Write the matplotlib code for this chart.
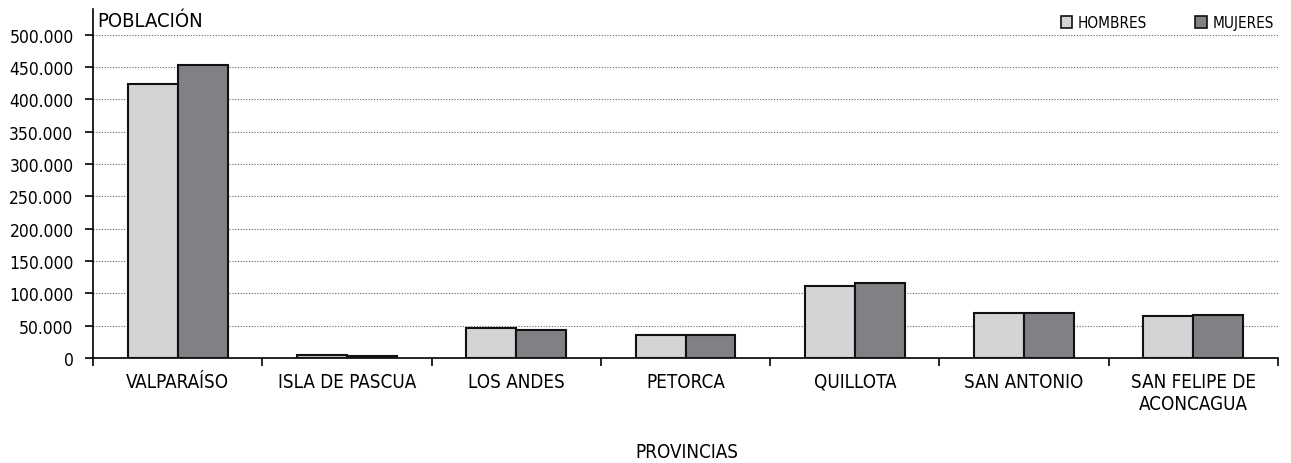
import numpy as np
from matplotlib import pyplot as plt
from matplotlib.ticker import FuncFormatter

plt.rcParams['font.family'] = ['DejaVu Sans']
plt.rcParams['font.stretch'] = 'condensed'

provincias = ['VALPARAÍSO', 'ISLA DE PASCUA', 'LOS ANDES', 'PETORCA',
              'QUILLOTA', 'SAN ANTONIO', 'SAN FELIPE DE\nACONCAGUA']
hombres = [424000, 3900, 46400, 35600, 112000, 69200, 64500]
mujeres = [453500, 3800, 43300, 35400, 116600, 69100, 67000]
yticks = [0, 50000, 100000, 150000, 200000, 250000, 300000, 350000, 400000, 450000, 500000]

fig = plt.figure(figsize=(12.91, 4.64), dpi=100)
ax = fig.add_axes([0.072, 0.2263, 0.918, 0.7522])

x = np.arange(len(provincias))
w = 0.295
ax.bar(x - w / 2, hombres, w, color='#d3d4d6', edgecolor='#111111', linewidth=1.5, zorder=3)
ax.bar(x + w / 2, mujeres, w, color='#808184', edgecolor='#111111', linewidth=1.5, zorder=3)

ax.set_xlim(-0.5, len(provincias) - 0.5)
ax.set_ylim(0, 540000)
ax.set_yticks(yticks)
ax.yaxis.set_major_formatter(FuncFormatter(lambda v, p: '{:,.0f}'.format(v).replace(',', '.')))
ax.grid(axis='y', linestyle=(0, (1, 1.5)), color='#666666', linewidth=0.8, zorder=0)

# ticks on category boundaries, labels centered
ax.set_xticks(np.arange(-0.5, len(provincias)))
ax.set_xticklabels([])
ax.set_xticks(x, minor=True)
ax.set_xticklabels(provincias, minor=True, fontsize=13.5)
ax.tick_params(axis='x', which='minor', length=0, pad=10)
ax.tick_params(axis='x', which='major', length=6, width=1.2, direction='out')
ax.tick_params(axis='y', length=6, width=1.2, labelsize=12.5, pad=8)

for s in ['top', 'right']:
    ax.spines[s].set_visible(False)
ax.spines['left'].set_linewidth(1.2)
ax.spines['bottom'].set_linewidth(1.2)

ax.text(0.004, 0.995, 'POBLACIÓN', transform=ax.transAxes, fontsize=14.5, va='top', ha='left')
fig.text(0.532, 0.024, 'PROVINCIAS', fontsize=13.5, ha='center', va='center')

# leyenda
for xs, col, lab in [(0.8215, '#d3d4d6', 'HOMBRES'), (0.9260, '#808184', 'MUJERES')]:
    fig.patches.append(plt.Rectangle((xs, 0.938), 0.0090, 0.026, transform=fig.transFigure,
                                     facecolor=col, edgecolor='#111111', linewidth=1.2))
    fig.text(xs + 0.0135, 0.950, lab, fontsize=11, va='center', ha='left')

fig.savefig('out.png', dpi=100)
